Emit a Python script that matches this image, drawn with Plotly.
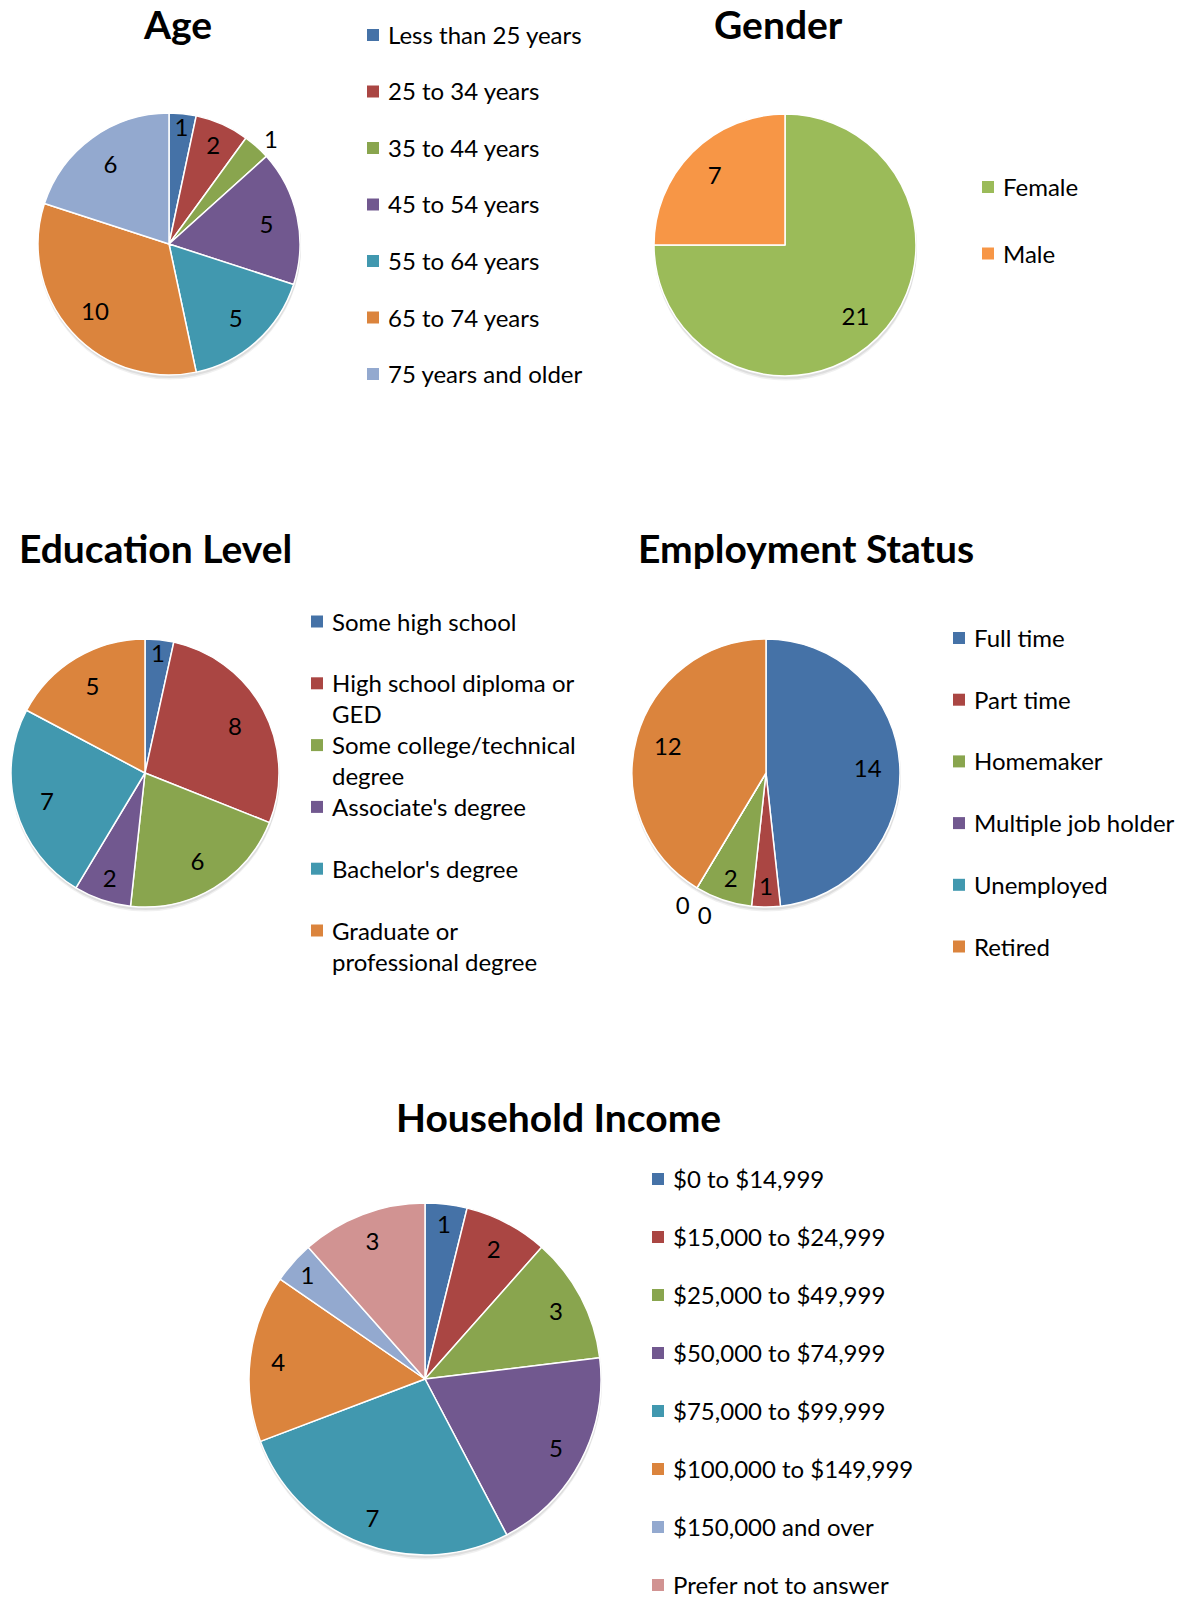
import textwrap
import plotly.graph_objects as go

W, H = 1198, 1598
OFF = 8  # the page body adds an 8px margin around the plot div

age_labels = ["Less than 25 years", "25 to 34 years", "35 to 44 years", "45 to 54 years",
              "55 to 64 years", "65 to 74 years", "75 years and older"]
age_values = [1, 2, 1, 5, 5, 10, 6]

gender_labels = ["Female", "Male"]
gender_values = [21, 7]

edu_labels = ["Some high school", "High school diploma or GED", "Some college/technical degree",
              "Associate's degree", "Bachelor's degree", "Graduate or professional degree"]
edu_values = [1, 8, 6, 2, 7, 5]

emp_labels = ["Full time", "Part time", "Homemaker", "Multiple job holder", "Unemployed", "Retired"]
emp_values = [14, 1, 2, 0, 0, 12]

inc_labels = ["$0 to $14,999", "$15,000 to $24,999", "$25,000 to $49,999", "$50,000 to $74,999",
              "$75,000 to $99,999", "$100,000 to $149,999", "$150,000 and over", "Prefer not to answer"]
inc_values = [1, 2, 3, 5, 7, 4, 1, 3]

palette = ["#4572A7", "#AA4643", "#89A54E", "#71588F", "#4198AF", "#DB843D", "#93A9CF", "#D19392"]
gender_colors = ["#9BBB59", "#F79646"]

FONT = "Lato"
FS = 24


def px(x, y):
    # pixel position on the page -> paper coords
    return (x - OFF) / W, 1 - (y - OFF) / H


def dom(cx, cy, r):
    x0, y1 = px(cx - r, cy - r)
    x1, y0 = px(cx + r, cy + r)
    return dict(x=[x0, x1], y=[y0, y1])


fig = go.Figure()
shapes = []
annotations = []


def label_ring(labels, values, d, textpos, hole):
    # transparent ring on top of the pie, just to carry the value labels
    # (puts them further out towards the rim, the way excel does)
    fig.add_trace(go.Pie(
        labels=labels, values=values, hole=hole,
        sort=False, direction="clockwise", rotation=0,
        marker=dict(colors=["rgba(0,0,0,0)"] * len(values), line=dict(width=0)),
        textinfo="value", textposition=textpos,
        insidetextorientation="horizontal",
        textfont=dict(family=FONT, size=FS, color="black"),
        domain=d, showlegend=False, hoverinfo="skip",
    ))


def add_pie(labels, values, colors, cx, cy, r, textpos=None, hole=0.52):
    n = len(values)
    textpos = textpos or ["inside"] * n
    # soft drop shadow under the pie
    for dy, a in [(4, 0.06), (2.5, 0.08)]:
        fig.add_trace(go.Pie(
            values=[sum(values)], labels=["shadow"], sort=False,
            marker=dict(colors=["rgba(0,0,0,%g)" % a], line=dict(width=0)),
            textinfo="none", domain=dom(cx + 0.5, cy + dy, r + 0.5),
            showlegend=False, hoverinfo="skip",
        ))
    # the slices themselves
    fig.add_trace(go.Pie(
        labels=labels, values=values,
        sort=False, direction="clockwise", rotation=0,
        marker=dict(colors=colors, line=dict(color="white", width=1.5)),
        textinfo="none",
        domain=dom(cx, cy, r), showlegend=False, hoverinfo="label+value",
    ))
    label_ring(labels, values, dom(cx, cy, r), textpos, hole)


def add_legend(labels, colors, x, y, step, wrap=None):
    # excel style legend: small square + label, evenly spaced
    for i, (lab, col) in enumerate(zip(labels, colors)):
        lines = textwrap.wrap(lab, wrap) if wrap else [lab]
        yy = y + i * step
        sx0, sy0 = px(x, yy - 6)
        sx1, sy1 = px(x + 12, yy + 6)
        shapes.append(dict(type="rect", xref="paper", yref="paper",
                           x0=sx0, x1=sx1, y0=sy1, y1=sy0,
                           fillcolor=col, line=dict(width=0)))
        tx, ty = px(x + 19, yy - 17)
        annotations.append(dict(
            text="<br>".join(lines), x=tx, y=ty, xref="paper", yref="paper",
            xanchor="left", yanchor="top", align="left", showarrow=False,
            font=dict(family=FONT, size=FS, color="black")))


def add_title(text, x, y):
    tx, ty = px(x, y)
    annotations.append(dict(
        text="<b>%s</b>" % text, x=tx, y=ty, xref="paper", yref="paper",
        xanchor="center", yanchor="middle", showarrow=False,
        font=dict(family=FONT, size=39, color="black")))


# Age
add_pie(age_labels, age_values, palette, 169, 244, 131,
        ["inside", "inside", "outside", "inside", "inside", "inside", "inside"])
add_legend(age_labels, palette, 367, 35, 56.5)
add_title("Age", 177, 24)

# Gender
add_pie(gender_labels, gender_values, gender_colors, 785, 245, 131)
add_legend(gender_labels, gender_colors, 982, 187, 66.5)
add_title("Gender", 778, 24)

# Education
add_pie(edu_labels, edu_values, palette, 145, 773, 134)
add_legend(edu_labels, palette, 311, 621.5, 61.8, wrap=22)
add_title("Education Level", 155, 548)

# Employment - the two zero slices sit on the same angle; each gets its own label trace,
# nudged a bit, so plotly doesn't stack them with a leader line
add_pie(emp_labels, emp_values, palette, 766, 773, 134,
        ["inside", "inside", "inside", "none", "none", "inside"])
label_ring(emp_labels, emp_values, dom(766, 779, 134),
           ["none", "none", "none", "outside", "none", "none"], 0.52)
label_ring(emp_labels, emp_values, dom(766 + 22, 779 + 10, 134),
           ["none", "none", "none", "none", "outside", "none"], 0.52)
add_legend(emp_labels, palette, 953, 638, 61.7)
add_title("Employment Status", 806, 548)

# Household income
add_pie(inc_labels, inc_values, palette, 425, 1379, 176, hole=0.68)
add_legend(inc_labels, palette, 652, 1179, 58.0)
add_title("Household Income", 558, 1117)

fig.update_layout(
    width=W, height=H,
    margin=dict(l=0, r=0, t=0, b=0),
    paper_bgcolor="white", plot_bgcolor="white",
    font=dict(family=FONT, color="black"),
    uniformtext=dict(minsize=FS, mode="show"),
    shapes=shapes, annotations=annotations,
)

fig.write_html("out.html")
